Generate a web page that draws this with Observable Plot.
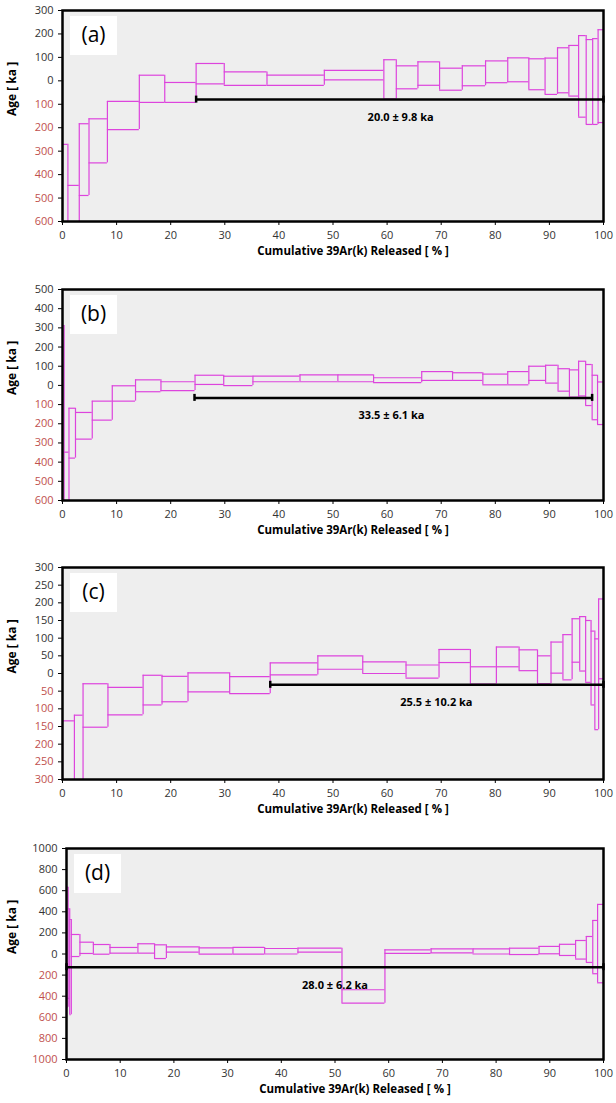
<!DOCTYPE html>
<html><head><meta charset="utf-8">
<script src="https://cdn.jsdelivr.net/npm/d3@7"></script>
<script src="https://cdn.jsdelivr.net/npm/@observablehq/plot@0.6"></script>
<style>
body{margin:0;background:#fff;}
#wrap{position:relative;width:616px;height:1103px;overflow:hidden;}
.panel{position:absolute;left:0;}
</style></head><body><div id="wrap"></div>
<script>
// ---- data ----
const panelNames = ["(a)", "(b)", "(c)", "(d)"];
const xTitle = "Cumulative 39Ar(k) Released [ % ]";
const yTitle = "Age [ ka ]";
const xTicks = [0, 10, 20, 30, 40, 50, 60, 70, 80, 90, 100];

// panel (a)
const edgesA = [0, 1.0, 3.1, 4.9, 8.3, 14.2, 18.9, 24.7, 29.9, 37.8, 48.4, 59.4, 61.7, 65.7, 69.7, 73.9, 78.2, 82.3, 86.2, 89.2, 91.5, 93.6, 95.4, 96.8, 98.0, 99.0, 100];
const highA = [-271, -446, -183, -162, -88, 24, -7, 74, 38, 24, 45, 90, 64, 81, 54, 64, 85, 98, 94, 97, 141, 151, 193, 176, 180, 218];
const lowA  = [-700, -700, -489, -350, -208, -92, -92, -13, -19, -19, 4, -78, -34, -19, -40, -21, -8, -4, -38, -58, -51, -65, -155, -186, -186, -178];
const ticksA = [300, 200, 100, 0, -100, -200, -300, -400, -500, -600];

// panel (b)
const edgesB = [0, 0.3, 1.2, 2.4, 5.5, 9.2, 13.5, 18.2, 24.5, 29.8, 35.2, 43.9, 50.9, 57.5, 66.4, 72.1, 77.7, 82.3, 86.2, 89.3, 91.6, 93.7, 95.4, 96.7, 97.9, 98.9, 100];
const highB = [312, -348, -119, -141, -82, -2, 29, 19, 53, 48, 48, 55, 55, 40, 72, 66, 59, 72, 100, 105, 87, 81, 126, 109, 53, 18];
const lowB  = [-700, -700, -379, -280, -181, -82, -33, -27, 5, -1, 19, 19, 19, 14, 26, 26, 3, 3, 26, 12, -30, -61, -55, -105, -179, -204];
const ticksB = [500, 400, 300, 200, 100, 0, -100, -200, -300, -400, -500, -600];

// panel (c)
const edgesC = [0, 2.2, 3.8, 8.4, 14.9, 18.4, 23.2, 30.9, 38.4, 47.2, 55.5, 63.5, 69.6, 75.4, 80.2, 84.4, 87.8, 90.3, 92.5, 94.2, 95.6, 96.7, 97.7, 98.4, 99.1, 100];
const highC = [-134, -118, -29, -39, -5, -8, 2, -9, 30, 50, 33, 24, 68, 19, 75, 67, 50, 89, 110, 155, 161, 150, 120, 98, 211];
const lowC  = [-400, -400, -152, -117, -89, -80, -52, -57, -4, 12, 0, -13, 31, -30, 19, 8, -29, 1, -18, 32, 7, -25, -89, -159, -15];
const ticksC = [300, 250, 200, 150, 100, 50, 0, -50, -100, -150, -200, -250, -300];

// panel (d)
const edgesD = [0, 0.3, 0.6, 0.9, 2.5, 5.0, 8.1, 13.3, 16.4, 18.6, 24.7, 31.0, 36.9, 43.1, 51.3, 59.3, 67.9, 75.7, 82.5, 88.0, 91.8, 94.8, 96.8, 98.0, 98.9, 100];
const highD = [633, 428, 327, 185, 112, 90, 62, 97, 87, 68, 59, 62, 52, 55, -339, 40, 49, 49, 55, 72, 92, 128, 166, 318, 470];
const lowD  = [-504, -420, -576, -24, 5, -2, 8, 8, -43, 17, -2, -2, 0, 17, -466, 5, 11, 0, -5, 2, -14, -48, -80, -187, -273];
const ticksD = [1000, 800, 600, 400, 200, 0, -200, -400, -600, -800, -1000];

// plateaus
const plateauStart = [24.7, 24.4, 38.4, 0];
const plateauEnd = [100, 97.9, 100, 100];
const plateauLevel = [-80, -65, -32, -125];
const plateauLabels = ["20.0 ± 9.8 ka", "33.5 ± 6.1 ka", "25.5 ± 10.2 ka", "28.0 ± 6.2 ka"];

// ---- layout / style ----
const edgesAll = [edgesA, edgesB, edgesC, edgesD];
const highAll = [highA, highB, highC, highD];
const lowAll = [lowA, lowB, lowC, lowD];
const ticksAll = [ticksA, ticksB, ticksC, ticksD];
const panelTop = [0, 279, 557, 838];
const panelHeight = [265, 265, 266, 265];
const marginLeftAll = [62, 62, 62, 66];
const labelXAll = [62.5, 60.8, 69.1, 50];
const MAGENTA = "#dd44dd";
const RED = "#c0504d";
const FONT = "'Open Sans', 'Noto Sans', sans-serif";

const wrap = document.getElementById("wrap");

for (let p = 0; p < 4; p++) {
  const edges = edgesAll[p], highs = highAll[p], lows = lowAll[p], ticks = ticksAll[p];
  const steps = highs.map((h, i) => ({x1: edges[i], x2: edges[i + 1], hi: h, lo: lows[i]}));
  // horizontal edges of each step box
  const hSegs = steps.flatMap(s => [{x1: s.x1, x2: s.x2, y: s.hi}, {x1: s.x1, x2: s.x2, y: s.lo}]);
  // vertical edges at each boundary, spanning both neighbouring steps
  const vSegs = edges.map((e, i) => {
    const adj = steps.slice(Math.max(0, i - 1), i + 1);
    return {x: e, y1: d3.min(adj, s => s.lo), y2: d3.max(adj, s => s.hi)};
  });
  const ymax = d3.max(ticks), ymin = d3.min(ticks);
  const pos = ticks.filter(t => t >= 0), neg = ticks.filter(t => t < 0);
  const mL = marginLeftAll[p], mT = 10;

  const chart = Plot.plot({
    width: 616,
    height: panelHeight[p],
    marginTop: mT,
    marginBottom: 44,
    marginLeft: mL,
    marginRight: 13,
    style: {fontFamily: FONT, fontSize: "11px", background: "white", color: "#333"},
    x: {domain: [0, 100]},
    y: {domain: [ymin, ymax]},
    marks: [
      Plot.frame({fill: "#eeeeee", stroke: null}),
      Plot.ruleY(hSegs, {x1: "x1", x2: "x2", y: "y", stroke: MAGENTA, strokeWidth: 1.2, clip: true}),
      Plot.ruleX(vSegs, {x: "x", y1: "y1", y2: "y2", stroke: MAGENTA, strokeWidth: 1.2, clip: true}),
      Plot.ruleY([plateauLevel[p]], {x1: plateauStart[p], x2: plateauEnd[p], stroke: "black", strokeWidth: 2.5}),
      Plot.ruleX([plateauStart[p], plateauEnd[p]], {y1: plateauLevel[p], y2: plateauLevel[p], insetTop: -3.5, insetBottom: -3.5, stroke: "black", strokeWidth: 2.5}),
      Plot.text([plateauLabels[p]], {x: labelXAll[p], y: plateauLevel[p], dy: 18, fontWeight: "bold", fontSize: 11, fill: "black"}),
      Plot.text([panelNames[p]], {frameAnchor: "top-left", textAnchor: "middle", lineAnchor: "middle", dx: 31, dy: 25, fontSize: 21, fill: "black"}),
      Plot.axisX(xTicks, {tickSize: 4, tickPadding: 6, label: null, stroke: "black", fill: "#333", fontSize: 11}),
      Plot.axisY(pos, {tickSize: 4, tickPadding: 5, label: null, stroke: "black", fill: "#333", tickFormat: d => String(Math.abs(d)), fontSize: 11}),
      Plot.axisY(neg, {tickSize: 4, tickPadding: 5, label: null, stroke: "black", fill: RED, tickFormat: d => String(Math.abs(d)), fontSize: 11}),
      Plot.frame({stroke: "black", strokeWidth: 2.5}),
      Plot.text([xTitle], {frameAnchor: "bottom", dx: 20, dy: 33, fontWeight: "bold", fontSize: 11.5, fill: "black"}),
      Plot.text([yTitle], {frameAnchor: "left", dx: -mL + 12, rotate: -90, fontWeight: "bold", fontSize: 12, fill: "black"})
    ]
  });

  // white label box behind the panel letter
  const firstMark = chart.querySelector('g[aria-label="rule"]');
  const box = document.createElementNS("http://www.w3.org/2000/svg", "rect");
  box.setAttribute("x", mL + 8);
  box.setAttribute("y", mT + 6);
  box.setAttribute("width", 47);
  box.setAttribute("height", 39);
  box.setAttribute("fill", "white");
  if (firstMark) chart.insertBefore(box, firstMark); else chart.appendChild(box);

  const div = document.createElement("div");
  div.className = "panel";
  div.style.top = panelTop[p] + "px";
  div.appendChild(chart);
  wrap.appendChild(div);
}
</script>
</body></html>
